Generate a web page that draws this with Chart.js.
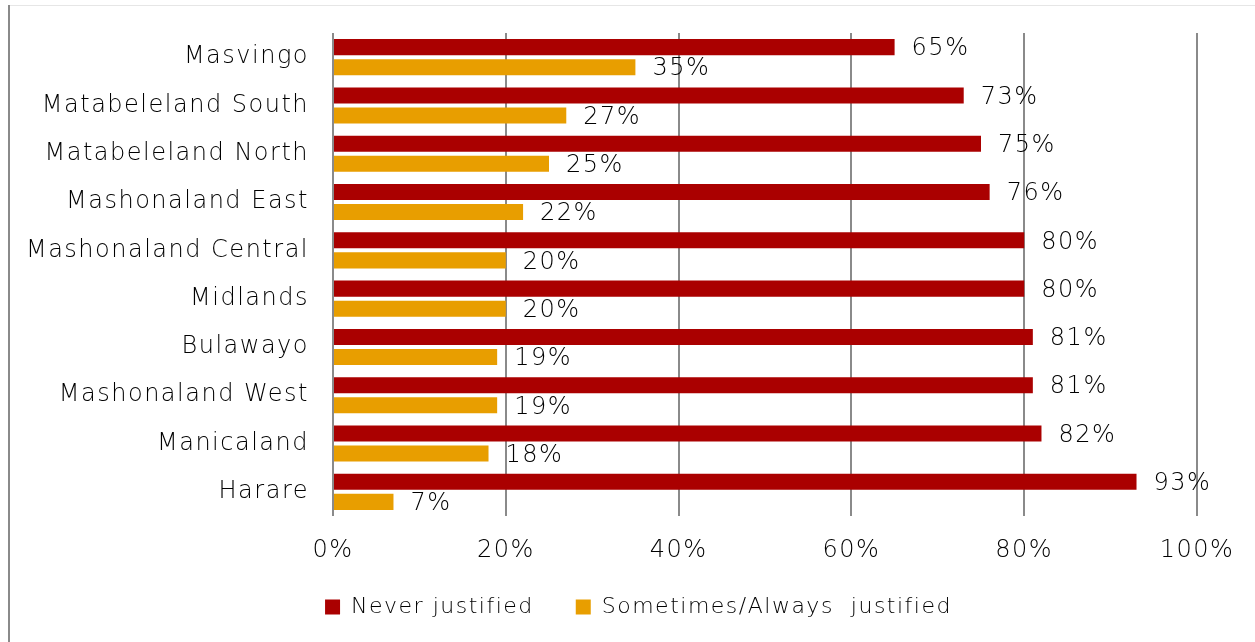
<!DOCTYPE html>
<html>
<head>
<meta charset="utf-8">
<script src="https://cdn.jsdelivr.net/npm/chart.js@4/dist/chart.umd.min.js"></script>
<style>
  html, body { margin: 0; padding: 0; background: #fff; }
  #wrap { position: absolute; left: 0; top: 0; width: 1255px; height: 642px; }
  #frameLeft { position: absolute; left: 8px; top: 5px; width: 2px; height: 637px; background: #8a8a8a; }
  #frameTop { position: absolute; left: 10px; top: 5px; width: 1245px; height: 1px; background: #e6e6e6; }
</style>
</head>
<body>
<div id="wrap">
  <canvas id="c" width="1255" height="642"></canvas>
  <div id="frameLeft"></div>
  <div id="frameTop"></div>
</div>
<script>
const categories = ["Masvingo", "Matabeleland South", "Matabeleland North", "Mashonaland East", "Mashonaland Central", "Midlands", "Bulawayo", "Mashonaland West", "Manicaland", "Harare"];
const neverJustified = [65, 73, 75, 76, 80, 80, 81, 81, 82, 93];
const sometimesJustified = [35, 27, 25, 22, 20, 20, 19, 19, 18, 7];
const seriesNames = ["Never justified", "Sometimes/Always  justified"];
const xTicks = [0, 20, 40, 60, 80, 100];

const FONT = "'DejaVu Sans', sans-serif";
const FS = 24;
const LEGEND_FS = 22;
const WEIGHT = 300;
const SPACING = "1.5px";
const LEGEND_H = 62;

const spacingPlugin = {
  id: 'spacing',
  beforeUpdate(chart) { chart.ctx.letterSpacing = SPACING; },
  beforeLayout(chart) { chart.ctx.letterSpacing = SPACING; },
  beforeDraw(chart) { chart.ctx.letterSpacing = SPACING; }
};

const legendPatch = {
  id: 'legendPatch',
  beforeUpdate(chart) {
    const lg = chart.legend;
    if (lg && !lg._patched) {
      const orig = lg.fit;
      lg.fit = function () { orig.call(this); this.height = LEGEND_H; };
      lg._patched = true;
    }
  },
  afterLayout(chart) {
    const lg = chart.legend;
    if (lg) {
      lg.left += 35; lg.right += 35;
      lg.top -= 12;
    }
  }
};

const labelPlugin = {
  id: 'valueLabels',
  afterDatasetsDraw(chart) {
    const ctx = chart.ctx;
    ctx.save();
    ctx.font = WEIGHT + " " + FS + "px " + FONT;
    ctx.fillStyle = "#000";
    ctx.textAlign = "left";
    ctx.textBaseline = "middle";
    chart.data.datasets.forEach((ds, i) => {
      const meta = chart.getDatasetMeta(i);
      meta.data.forEach((bar, j) => {
        ctx.fillText(ds.data[j] + "%", bar.x + 17, bar.y + 2);
      });
    });
    ctx.restore();
  }
};

new Chart(document.getElementById('c'), {
  type: 'bar',
  data: {
    labels: categories,
    datasets: [
      { label: seriesNames[0], data: neverJustified, backgroundColor: "#AA0000", barPercentage: 0.8, categoryPercentage: 0.83 },
      { label: seriesNames[1], data: sometimesJustified, backgroundColor: "#E89E00", barPercentage: 0.8, categoryPercentage: 0.83 }
    ]
  },
  options: {
    indexAxis: 'y',
    responsive: false,
    animation: false,
    layout: { padding: { top: 33, right: 58, bottom: 14, left: 10 } },
    plugins: {
      legend: {
        position: 'bottom',
        labels: {
          font: { family: FONT, size: LEGEND_FS, weight: WEIGHT },
          color: "#000",
          boxWidth: 15,
          boxHeight: 15,
          padding: 42
        }
      },
      tooltip: { enabled: false }
    },
    scales: {
      x: {
        min: 0, max: 100,
        afterBuildTicks: (s) => { s.ticks = xTicks.map(v => ({ value: v })); },
        ticks: { callback: v => v + "%", font: { family: FONT, size: FS, weight: WEIGHT }, color: "#000", padding: 20, maxRotation: 0 },
        grid: { color: "#8a8a8a", lineWidth: 2, drawTicks: false },
        border: { display: false },
        afterFit: (s) => { s.height = 50; }
      },
      y: {
        ticks: { font: { family: FONT, size: FS, weight: WEIGHT }, color: "#000", padding: 24 },
        grid: { display: false, drawTicks: false },
        border: { display: false },
        afterFit: (s) => { s.width = 323; s.paddingTop = 0; s.paddingBottom = 0; }
      }
    }
  },
  plugins: [spacingPlugin, legendPatch, labelPlugin]
});
</script>
</body>
</html>
